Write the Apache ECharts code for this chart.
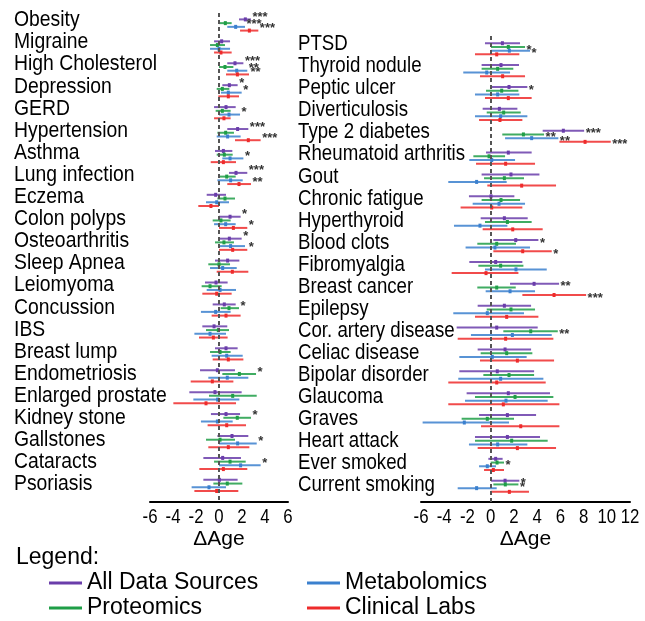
<!DOCTYPE html>
<html>
<head>
<meta charset="utf-8">
<script src="https://cdn.jsdelivr.net/npm/echarts@6/dist/echarts.min.js"></script>
<style>html,body{margin:0;padding:0;background:#fff;}#chart{width:645px;height:621px;}</style>
</head>
<body>
<div id="chart"></div>
<script>
// ---------- DATA ----------
const leftCategories = ["Obesity","Migraine","High Cholesterol","Depression","GERD","Hypertension","Asthma","Lung infection","Eczema","Colon polyps","Osteoarthritis","Sleep Apnea","Leiomyoma","Concussion","IBS","Breast lump","Endometriosis","Enlarged prostate","Kidney stone","Gallstones","Cataracts","Psoriasis"];
const rightCategories = ["PTSD","Thyroid nodule","Peptic ulcer","Diverticulosis","Type 2 diabetes","Rheumatoid arthritis","Gout","Chronic fatigue","Hyperthyroid","Blood clots","Fibromyalgia","Breast cancer","Epilepsy","Cor. artery disease","Celiac disease","Bipolar disorder","Glaucoma","Graves","Heart attack","Ever smoked","Current smoking"];
const sourceNames = ["All Data Sources","Proteomics","Metabolomics","Clinical Labs"];
const leftTicks = [-6,-4,-2,0,2,4,6];
const rightTicks = [-6,-4,-2,0,2,4,6,8,10,12];

// each entry: [low, estimate, high, number of stars]
const leftAll = [[1.74,2.29,2.78,3],[-0.43,0.23,0.96,0],[0.72,1.39,2.12,3],[0.29,0.9,1.62,1],[-0.43,0.61,1.45,0],[0.72,1.62,2.55,3],[-0.35,0.38,1.16,0],[0.87,1.48,2.46,3],[-1.07,-0.29,0.61,0],[0,0.96,1.88,1],[0,0.9,1.97,1],[-0.35,0.75,1.77,0],[-1.22,-0.26,0.75,0],[-0.55,0.46,1.45,0],[-1.45,-0.43,0.72,0],[-0.35,0.61,1.62,0],[-1.65,-0.14,1.39,0],[-2.58,-0.35,1.97,0],[-0.7,0.61,1.83,0],[-0.14,1.13,2.55,0],[-1.36,0.32,1.91,0],[-1.36,0.03,1.62,0]];
const leftProt = [[0,0.55,1.1,0],[-0.78,-0.14,0.52,0],[0,0.52,1.25,0],[-0.2,0.29,0.9,0],[-0.29,0.29,1.01,0],[-0.14,0.58,1.3,0],[-0.2,0.46,1.19,0],[0,0.67,1.45,0],[-0.14,0.52,1.39,0],[-0.55,0.17,1.01,0],[-0.35,0.43,1.3,0],[-0.93,0,0.96,0],[-1.51,-0.78,0.23,0],[0.14,0.87,1.74,1],[-1.13,-0.06,0.87,0],[-0.78,0.09,1.01,0],[0.29,1.77,3.22,1],[-0.87,1.19,3.28,0],[0.38,1.59,2.78,1],[-1.13,0.09,1.39,0],[-0.43,0.96,2.32,0],[-0.49,0.72,2.03,0]];
const leftMetab = [[0.72,1.45,2.26,3],[-0.78,0,0.96,0],[0.72,1.54,2.46,2],[0.17,0.81,1.97,1],[0,0.87,1.83,1],[-0.2,0.75,1.88,0],[0.29,0.96,2.12,1],[-0.14,1.01,2.06,0],[-1.13,-0.2,0.87,0],[-0.43,0.58,1.45,0],[-0.06,1.01,2.26,0],[-0.78,0.32,1.54,0],[-1.07,0.09,1.48,0],[-1.57,-0.29,1.01,0],[-2.14,-0.78,0.61,0],[-0.64,0.67,2.06,0],[-0.93,0.72,2.55,0],[-2.23,-0.12,1.77,0],[-1.57,-0.14,1.19,0],[0,1.62,3.28,1],[0,1.88,3.62,1],[-2.38,-0.87,0.61,0]];
const leftClin = [[1.83,2.64,3.42,3],[-0.43,0.17,1.1,0],[0.61,1.6,2.61,2],[-0.06,0.81,1.74,0],[-0.43,0.43,1.01,0],[1.39,2.55,3.62,3],[-0.72,0.38,1.48,0],[0.72,1.74,2.78,2],[-1.8,-0.7,0,0],[0,1.25,2.46,1],[0,1.19,2.46,1],[-0.2,1.16,2.55,0],[-1.45,-0.2,1.1,0],[-0.64,0.61,1.88,0],[-1.74,-0.49,0.75,0],[-0.55,0.81,2.12,0],[-2.46,-0.58,1.25,0],[-3.97,-1.13,1.48,0],[-0.99,0.67,2.35,0],[-0.93,0.81,2.64,0],[-1.71,0.38,2.46,0],[-2.14,-0.2,1.68,0]];

const rightAll = [[-0.49,1.01,2.53,0],[-0.78,0.89,2.44,0],[0.09,1.58,3.16,1],[-0.69,0.75,2.3,0],[4.48,6.26,8.05,3],[-0.4,1.52,3.53,0],[-0.78,1.75,4.2,0],[-1.87,0.03,2.04,0],[-0.86,1.18,3.19,0],[0.23,2.16,4.11,1],[-1.84,0.43,2.73,0],[1.67,3.74,5.89,2],[-1.12,1.18,3.48,0],[-2.93,0.52,4.05,0],[-1.12,1.24,3.48,0],[-2.7,0.57,3.74,0],[-2.07,1.52,5.11,0],[-1.0,1.44,3.91,0],[-1.35,1.44,4.25,0],[-0.2,0.43,1.03,0],[0.03,1.24,2.47,1]];
const rightProt = [[0.03,1.52,2.96,1],[-0.78,0.6,1.95,0],[-0.4,0.95,2.39,0],[-0.34,1.12,2.59,0],[1.0,2.82,4.6,2],[-1.49,-0.14,1.24,0],[-0.57,1.18,2.87,0],[-0.78,0.89,2.53,0],[-0.49,1.44,3.53,0],[-1.15,0.52,2.18,0],[-1.06,0.86,2.82,0],[-1.15,0.52,2.16,0],[-0.34,1.75,3.82,0],[1.09,3.45,5.78,2],[-0.86,1.38,3.59,0],[-0.63,1.58,3.74,0],[-1.35,2.1,5.4,0],[-2.5,-0.29,2.01,0],[-1.35,1.81,4.91,0],[0,0.55,1.15,1],[0.23,1.26,2.39,1]];
const rightMetab = [[0.03,1.61,3.39,1],[-2.36,-0.34,1.67,0],[-1.35,0.6,2.47,0],[-1.35,0.86,3.16,0],[1.24,3.53,5.83,2],[-1.84,0.09,2.1,0],[-3.65,-1.21,1.38,0],[-1.55,0.72,2.96,0],[-3.16,-0.92,1.44,0],[-2.16,0.37,3.39,0],[-0.49,2.18,4.83,0],[-0.43,1.67,3.82,0],[-3.22,-0.29,2.87,0],[-1.7,1.87,5.26,0],[-2.7,0.14,3.1,0],[-2.79,0.86,4.54,0],[-2.21,1.32,4.91,0],[-5.86,-2.27,1.58,0],[-1.87,0.6,3.16,0],[-1.0,-0.29,0.46,0],[-2.84,-1.21,0.52,0]];
const rightClin = [[-1.35,0.52,2.47,0],[-0.92,1.03,2.96,0],[-0.49,1.52,3.53,0],[-1.0,0.8,2.73,0],[5.92,8.13,10.34,3],[-1.26,1.29,3.82,0],[-0.29,2.67,5.63,0],[-2.59,0.09,2.73,0],[-0.69,1.9,4.48,0],[0.23,2.76,5.26,1],[-3.36,-0.4,2.39,0],[2.73,5.46,8.22,3],[-1.35,1.38,4.11,0],[-2.84,1.29,5.4,0],[-0.92,2.3,5.46,0],[-3.65,0.52,4.74,0],[-3.65,1.09,5.92,0],[-0.83,2.59,5.92,0],[-1.12,2.3,5.63,0],[-0.57,0.23,1.15,0],[0,1.61,3.3,0]];

// ---------- STYLE ----------
const colors = ['#6A3DAA', '#1F9E47', '#3B80CE', '#EE2B2B'];
const subOffsets = [-0.255, -0.085, 0.085, 0.255];
const FONT = "'Liberation Sans', Arial, Helvetica, sans-serif";
const LEFT_YMAX = 21.756, RIGHT_YMAX = 20.718;

function renderer(k, starDy) {
  return function (params, api) {
    const row = api.value(0);
    const y = row + subOffsets[k];
    const a = api.coord([api.value(1), y]);
    const e = api.coord([api.value(2), y]);
    const b = api.coord([api.value(3), y]);
    const sig = api.value(4);
    const col = colors[k];
    const children = [
      { type: 'line', shape: { x1: a[0], y1: a[1], x2: b[0], y2: b[1] },
        style: { stroke: col, lineWidth: 2, opacity: 0.85 } },
      { type: 'rect', shape: { x: e[0] - 1.5, y: e[1] - 2, width: 3, height: 4 },
        style: { fill: col } }
    ];
    if (sig > 0) {
      children.push({ type: 'text', x: b[0] + 1.5, y: b[1] + starDy,
        style: { text: '*'.repeat(sig), fill: '#333', fontSize: 13, fontWeight: 'bold',
                 fontFamily: FONT, align: 'left', verticalAlign: 'middle' } });
    }
    return { type: 'group', children: children };
  };
}

// condensed category labels (reference text is narrow and tall)
function labelRenderer(cats, sx) {
  return function (params, api) {
    const p = api.coord([0, api.value(1)]);
    return { type: 'text', x: p[0], y: p[1], scaleX: sx, scaleY: 1,
      style: { text: cats[params.dataIndex], fill: '#000', fontSize: 22.5, fontFamily: FONT,
               align: 'left', verticalAlign: 'middle' } };
  };
}
// condensed tick labels below the axis line
function tickRenderer(ymax) {
  return function (params, api) {
    const p = api.coord([api.value(0), ymax]);
    return { type: 'text', x: p[0], y: p[1] + 5, scaleX: 0.8, scaleY: 1,
      style: { text: String(api.value(0)), fill: '#000', fontSize: 21, fontFamily: FONT,
               align: 'center', verticalAlign: 'top' } };
  };
}

function toRows(arr) { return arr.map((d, i) => [i, d[0], d[1], d[2], d[3]]); }

const leftSets = [leftAll, leftProt, leftMetab, leftClin];
const rightSets = [rightAll, rightProt, rightMetab, rightClin];

const zeroLine = {
  silent: true, symbol: ['none', 'none'], label: { show: false },
  lineStyle: { color: '#555', width: 2, type: [4, 3] },
  data: [{ xAxis: 0 }]
};

const series = [];
leftSets.forEach((set, k) => {
  const s = {
    type: 'custom', name: sourceNames[k], xAxisIndex: 0, yAxisIndex: 0,
    itemStyle: { color: colors[k] }, renderItem: renderer(k, -2),
    encode: { x: [1, 2, 3], y: 0 }, data: toRows(set), clip: false
  };
  if (k === 0) s.markLine = zeroLine;
  series.push(s);
});
rightSets.forEach((set, k) => {
  const s = {
    type: 'custom', name: sourceNames[k], xAxisIndex: 1, yAxisIndex: 1,
    itemStyle: { color: colors[k] }, renderItem: renderer(k, 3),
    encode: { x: [1, 2, 3], y: 0 }, data: toRows(set), clip: false
  };
  if (k === 0) s.markLine = zeroLine;
  series.push(s);
});
series.push({ type: 'custom', name: 'leftLabels', xAxisIndex: 2, yAxisIndex: 2, silent: true, clip: false,
  renderItem: labelRenderer(leftCategories, 0.86), encode: { x: 0, y: 1 },
  data: leftCategories.map((c, i) => [0, i]) });
series.push({ type: 'custom', name: 'rightLabels', xAxisIndex: 3, yAxisIndex: 3, silent: true, clip: false,
  renderItem: labelRenderer(rightCategories, 0.83), encode: { x: 0, y: 1 },
  data: rightCategories.map((c, i) => [0, i]) });
series.push({ type: 'custom', name: 'leftTicks', xAxisIndex: 0, yAxisIndex: 0, silent: true, clip: false,
  renderItem: tickRenderer(LEFT_YMAX), encode: { x: 0 }, data: leftTicks.map(v => [v]) });
series.push({ type: 'custom', name: 'rightTicks', xAxisIndex: 1, yAxisIndex: 1, silent: true, clip: false,
  renderItem: tickRenderer(RIGHT_YMAX), encode: { x: 0 }, data: rightTicks.map(v => [v]) });

function valueX(gridIndex, min, max) {
  return {
    type: 'value', gridIndex: gridIndex, min: min, max: max, interval: 2,
    axisLine: { show: true, onZero: false, lineStyle: { color: '#000', width: 2 } },
    axisTick: { show: false }, splitLine: { show: false }, axisLabel: { show: false },
    name: 'ΔAge', nameLocation: 'middle', nameGap: 27,
    nameTextStyle: { color: '#000', fontSize: 21, fontFamily: FONT }
  };
}
function labelY(gridIndex, cats) {
  return {
    type: 'category', gridIndex: gridIndex, inverse: true, data: cats,
    axisLine: { show: false }, axisTick: { show: false }, splitLine: { show: false },
    axisLabel: { show: false }
  };
}
function legendItem(name, left, top) {
  return { data: [name], orient: 'vertical', left: left, top: top, padding: 0,
    icon: 'rect', itemWidth: 33, itemHeight: 3, selectedMode: false,
    textStyle: { fontSize: 23, color: '#000', fontFamily: FONT, lineHeight: 24 } };
}

const option = {
  animation: false,
  backgroundColor: '#fff',
  title: { text: 'Legend:', left: 16, top: 546, padding: 0,
           textStyle: { fontSize: 23, fontWeight: 'normal', color: '#000', fontFamily: FONT } },
  legend: [
    legendItem('All Data Sources', 49, 571),
    legendItem('Proteomics', 49, 596),
    legendItem('Metabolomics', 307, 571),
    legendItem('Clinical Labs', 307, 596)
  ],
  grid: [
    { left: 150, top: 13, width: 138, height: 489, containLabel: false },
    { left: 421, top: 36, width: 209, height: 466, containLabel: false },
    { left: 14, top: 9, width: 120, height: 486.2, containLabel: false },
    { left: 298, top: 33, width: 110, height: 463, containLabel: false }
  ],
  xAxis: [
    valueX(0, -6, 6),
    valueX(1, -6, 12),
    { type: 'value', gridIndex: 2, min: 0, max: 1, show: false },
    { type: 'value', gridIndex: 3, min: 0, max: 1, show: false }
  ],
  yAxis: [
    { type: 'value', gridIndex: 0, inverse: true, min: -0.547, max: LEFT_YMAX, show: false },
    { type: 'value', gridIndex: 1, inverse: true, min: -0.585, max: RIGHT_YMAX, show: false },
    labelY(2, leftCategories),
    labelY(3, rightCategories)
  ],
  series: series
};

const chart = echarts.init(document.getElementById('chart'), null, { renderer: 'canvas' });
chart.setOption(option);
</script>
</body>
</html>
